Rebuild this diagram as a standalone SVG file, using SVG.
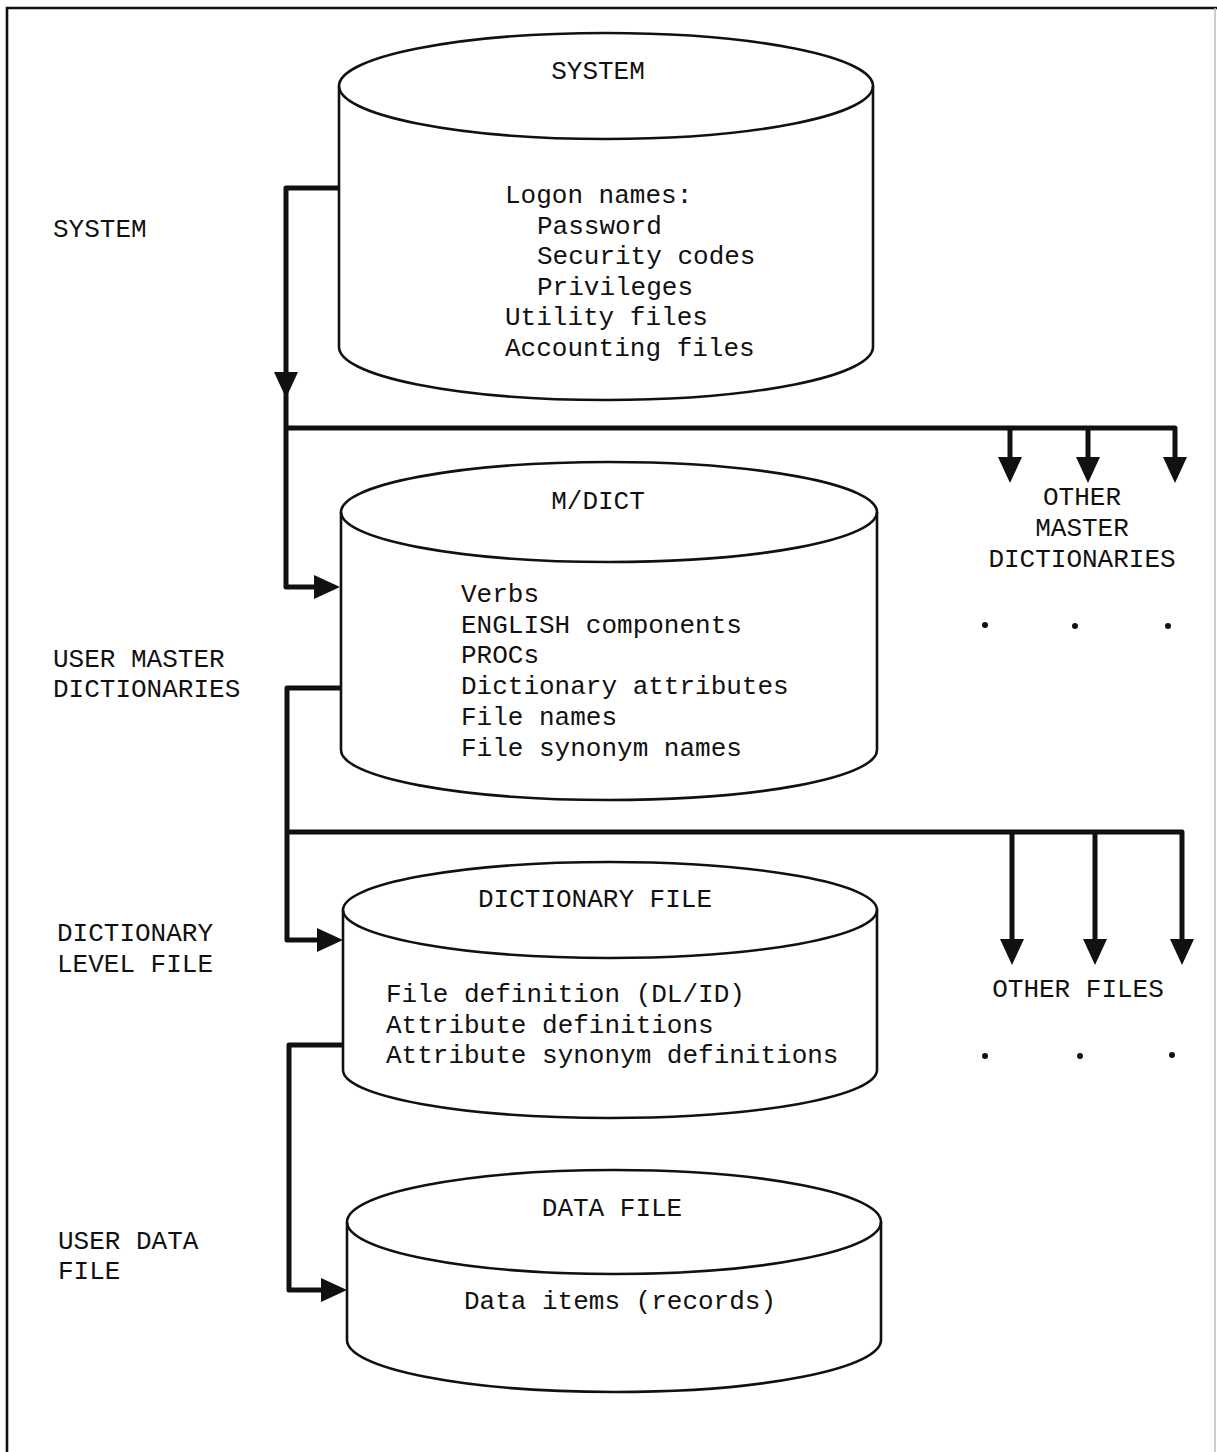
<svg xmlns="http://www.w3.org/2000/svg" width="1217" height="1452" viewBox="0 0 1217 1452">
<style>
.t{font-family:"Liberation Mono","DejaVu Sans Mono",monospace;font-size:26px;fill:#111}
.m{text-anchor:middle}
.cyl{fill:none;stroke:#111;stroke-width:2.6}
.con{fill:none;stroke:#111;stroke-width:5;stroke-linejoin:round}
.ar{marker-end:url(#ah)}
.dot{fill:#111}
</style>
<defs>
<marker id="ah" markerUnits="userSpaceOnUse" viewBox="0 0 26 24" refX="20" refY="12" markerWidth="26" markerHeight="24" orient="auto">
<path d="M0,0 L26,12 L0,24 z" fill="#111"/>
</marker>
</defs>
<rect width="1217" height="1452" fill="#fff"/>
<g id="frame">
<path d="M7,1452 V8 H1217" fill="none" stroke="#111" stroke-width="2.6"/>
<line x1="1215" y1="8" x2="1215" y2="1452" stroke="#bbb" stroke-width="1.5"/>
</g>
<g id="connectors">
<path class="con ar" d="M339,188 H286 V392"/>
<path class="con ar" d="M286,392 V587 H334"/>
<path class="con ar" d="M286,428 H1175 V477"/>
<path class="con ar" d="M1010,428 V477"/>
<path class="con ar" d="M1088,428 V477"/>
<path class="con ar" d="M341,688 H287 V940 H337"/>
<path class="con ar" d="M287,832 H1182 V959"/>
<path class="con ar" d="M1012,832 V959"/>
<path class="con ar" d="M1095,832 V959"/>
<path class="con ar" d="M343,1045 H289 V1290 H341"/>
</g>
<g id="lbl-system">
<text class="t" x="53" y="237">SYSTEM</text>
</g>
<g id="lbl-umd">
<text class="t" x="53" y="667">USER MASTER</text>
<text class="t" x="53" y="697">DICTIONARIES</text>
</g>
<g id="lbl-dlf">
<text class="t" x="57" y="941">DICTIONARY</text>
<text class="t" x="57" y="972">LEVEL FILE</text>
</g>
<g id="lbl-udf">
<text class="t" x="58" y="1249">USER DATA</text>
<text class="t" x="58" y="1279">FILE</text>
</g>
<g id="node-system">
<ellipse class="cyl" cx="606" cy="86" rx="267" ry="53"/>
<path class="cyl" d="M339,86 V347 A267,53 0 0 0 873,347 V86"/>
<text class="t m" x="598" y="79">SYSTEM</text>
<text class="t" x="505" y="203">Logon names:</text>
<text class="t" x="537" y="234">Password</text>
<text class="t" x="537" y="264">Security codes</text>
<text class="t" x="537" y="295">Privileges</text>
<text class="t" x="505" y="325">Utility files</text>
<text class="t" x="505" y="356">Accounting files</text>
</g>
<g id="node-mdict">
<ellipse class="cyl" cx="609" cy="512" rx="268" ry="50"/>
<path class="cyl" d="M341,512 V750 A268,50 0 0 0 877,750 V512"/>
<text class="t m" x="598" y="509">M/DICT</text>
<text class="t" x="461" y="602">Verbs</text>
<text class="t" x="461" y="633">ENGLISH components</text>
<text class="t" x="461" y="663">PROCs</text>
<text class="t" x="461" y="694">Dictionary attributes</text>
<text class="t" x="461" y="725">File names</text>
<text class="t" x="461" y="756">File synonym names</text>
</g>
<g id="node-other-master">
<text class="t m" x="1082" y="505">OTHER</text>
<text class="t m" x="1082" y="536">MASTER</text>
<text class="t m" x="1082" y="567">DICTIONARIES</text>
<circle class="dot" cx="985" cy="625" r="3"/>
<circle class="dot" cx="1075" cy="626" r="3"/>
<circle class="dot" cx="1168" cy="626" r="3"/>
</g>
<g id="node-dictfile">
<ellipse class="cyl" cx="610" cy="910" rx="267" ry="48"/>
<path class="cyl" d="M343,910 V1070 A267,48 0 0 0 877,1070 V910"/>
<text class="t m" x="595" y="907">DICTIONARY FILE</text>
<text class="t" x="386" y="1002">File definition (DL/ID)</text>
<text class="t" x="386" y="1033">Attribute definitions</text>
<text class="t" x="386" y="1063">Attribute synonym definitions</text>
</g>
<g id="node-other-files">
<text class="t m" x="1078" y="997">OTHER FILES</text>
<circle class="dot" cx="985" cy="1056" r="3"/>
<circle class="dot" cx="1080" cy="1056" r="3"/>
<circle class="dot" cx="1172" cy="1055" r="3"/>
</g>
<g id="node-datafile">
<ellipse class="cyl" cx="614" cy="1222" rx="267" ry="52"/>
<path class="cyl" d="M347,1222 V1340 A267,52 0 0 0 881,1340 V1222"/>
<text class="t m" x="612" y="1216">DATA FILE</text>
<text class="t m" x="620" y="1309">Data items (records)</text>
</g>
</svg>
